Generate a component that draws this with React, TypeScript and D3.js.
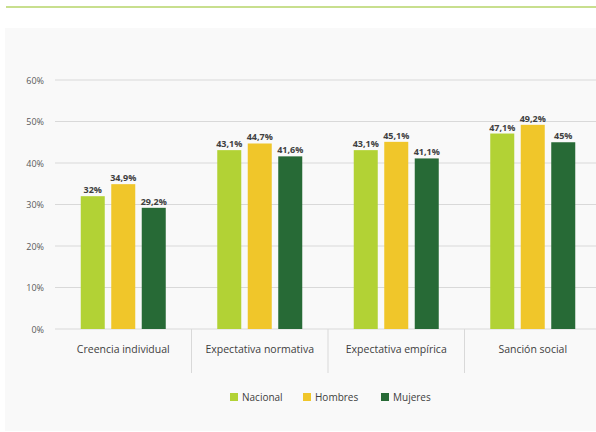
import React from "react";
import * as d3 from "d3";

const categories = ["Creencia individual", "Expectativa normativa", "Expectativa empírica", "Sanción social"];
const seriesNames = ["Nacional", "Hombres", "Mujeres"];
const nacional = [32, 43.1, 43.1, 47.1];
const hombres = [34.9, 44.7, 45.1, 49.2];
const mujeres = [29.2, 41.6, 41.1, 45];
const valueLabels = [
  ["32%", "43,1%", "43,1%", "47,1%"],
  ["34,9%", "44,7%", "45,1%", "49,2%"],
  ["29,2%", "41,6%", "41,1%", "45%"],
];
const ticks = [0, 10, 20, 30, 40, 50, 60];
const colors = ["#b2d235", "#f0c62a", "#276a36"];

export default function App() {
  const W = 596, H = 432;
  const left = 55, right = 601, top = 80, bottom = 329;
  const x = d3.scaleBand<string>().domain(categories).range([left, right]);
  const y = d3.scaleLinear().domain([0, 60]).range([bottom, top]);
  const sub = d3.scaleBand<string>().domain(seriesNames).range([-42.5, 42.5]).paddingInner(0.213).paddingOuter(0);
  const data = [nacional, hombres, mujeres];
  const font = "'Open Sans', 'Noto Sans', sans-serif";
  const legendX = [230, 303, 381];
  return (
    <div style={{ position: "absolute", left: 0, top: 0 }}>
      <svg width={W} height={H} style={{ display: "block" }} fontFamily={font}>
        <rect x={0} y={0} width={W} height={H} fill="#ffffff" />
        <rect x={6} y={6} width={590} height={2} fill="#c8df8e" />
        <rect x={5} y={28} width={591} height={403} fill="#f9f9f9" />
        {ticks.map((t) => (
          <g key={t}>
            <line x1={left} x2={right} y1={y(t)} y2={y(t)} stroke="#d9d9d9" strokeWidth={1} />
            <text x={44} y={y(t) + 3.5} textAnchor="end" fontSize={9} fill="#595959">{t}%</text>
          </g>
        ))}
        {categories.slice(1).map((c) => (
          <line key={c} x1={x(c)!} x2={x(c)!} y1={bottom} y2={373} stroke="#d9d9d9" strokeWidth={1} />
        ))}
        {categories.map((c, i) => {
          const cx = x(c)! + x.bandwidth() / 2;
          return (
            <g key={c}>
              {seriesNames.map((s, j) => {
                const v = data[j][i];
                const bx = cx + sub(s)!;
                return (
                  <g key={s}>
                    <rect x={bx} y={y(v)} width={sub.bandwidth()} height={bottom - y(v)} fill={colors[j]} />
                    <text x={bx + sub.bandwidth() / 2} y={y(v) - 3} textAnchor="middle" fontSize={9} fontWeight="bold" fill="#404040">{valueLabels[j][i]}</text>
                  </g>
                );
              })}
              <text x={cx} y={353} textAnchor="middle" fontSize={10.5} fill="#404040">{c}</text>
            </g>
          );
        })}
        {seriesNames.map((s, j) => (
          <g key={s}>
            <rect x={legendX[j]} y={393} width={8} height={8} fill={colors[j]} />
            <text x={legendX[j] + 12} y={401} fontSize={10} fill="#404040">{s}</text>
          </g>
        ))}
      </svg>
    </div>
  );
}
